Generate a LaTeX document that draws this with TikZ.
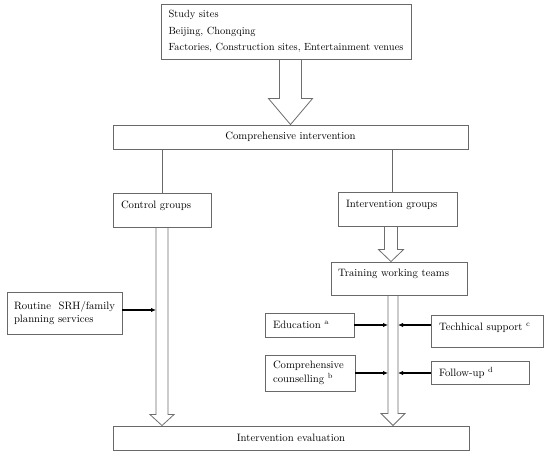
\documentclass[tikz,border=0pt]{standalone}
\usetikzlibrary{calc,arrows.meta}
\definecolor{boxgray}{RGB}{105,105,105}
\definecolor{arrgray}{RGB}{110,110,110}
\tikzset{
  box/.style={draw=boxgray, line width=0.9pt, inner ysep=0pt, inner xsep=8pt,
    font=\fontsize{10.7}{13.5}\selectfont, text=black},
  lbox/.style={box, align=left},
  hollow/.style={draw=arrgray, line width=0.8pt, line join=miter},
  thinline/.style={draw=boxgray, line width=0.9pt},
  conn/.style={draw=black, line width=1.1pt, -{Latex[length=5pt,width=4.5pt]}},
}
\newcommand{\hollowarrow}[5]{%
  \draw[hollow] let \p1=(#1), \p2=(#2) in
    (\x1-#3,\y1) -- (\x1-#3,\y2+#5) -- (\x1-#4,\y2+#5) -- (\x1,\y2)
    -- (\x1+#4,\y2+#5) -- (\x1+#3,\y2+#5) -- (\x1+#3,\y1);
}
\begin{document}
\begin{tikzpicture}[x=1pt,y=-1pt]
\useasboundingbox[fill=white] (0,0) rectangle (550,457);

\node[lbox, minimum width=250pt, minimum height=55pt,
      inner xsep=0pt, font=\fontsize{10.4}{16.5}\selectfont] (sites) at (286,31.5)
  {Study sites\\Beijing, Chongqing\\Factories, Construction sites, Entertainment venues};

\node[box, minimum width=355pt, minimum height=24pt] (comp) at (290.5,137)
  {Comprehensive intervention};

\node[lbox, minimum width=98pt, minimum height=34pt, text width=82pt, text depth=11pt] (control) at (162,210)
  {Control groups};

\node[lbox, minimum width=119pt, minimum height=34pt, text width=103pt, text depth=9.5pt] (intgroups) at (397.5,209)
  {Intervention groups};

\node[lbox, minimum width=136pt, minimum height=33pt, text width=122pt, inner xsep=7pt, text depth=11pt] (training) at (399,278.5)
  {Training working teams};

\node[box, align=justify, minimum width=115pt, minimum height=42pt, text width=101pt, inner xsep=7pt] (routine) at (64.5,313)
  {Routine SRH/family\linebreak planning services};

\node[lbox, minimum width=89pt, minimum height=24pt, text width=73pt] (edu) at (309.5,325)
  {Education \textsuperscript{a}};

\node[lbox, minimum width=90pt, minimum height=36pt, text width=74pt] (couns) at (310,373)
  {Comprehensive\\counselling \textsuperscript{b}};

\node[lbox, minimum width=112pt, minimum height=32pt, text width=96pt, text depth=8.5pt] (tech) at (487,331)
  {Techhical support \textsuperscript{c}};

\node[lbox, minimum width=98pt, minimum height=23pt, text width=82pt] (follow) at (480,372.5)
  {Follow-up \textsuperscript{d}};

\node[box, minimum width=356pt, minimum height=24pt] (eval) at (291,438)
  {Intervention evaluation};

% helper coordinates on the hollow arrows
\coordinate (igout) at ($(intgroups.south)+(-6.5,0)$);
\coordinate (igin) at ($(intgroups.north)+(-5.5,0)$);
\coordinate (trout) at ($(training.south)+(-6,0)$);
\coordinate (cshaftL) at ($(control.south)+(-6,0)$);
\coordinate (tshaftL) at ($(trout)+(-5,0)$);
\coordinate (tshaftR) at ($(trout)+(5,0)$);

% thin lines
\draw[thinline] (control.north |- comp.south) -- (control.north);
\draw[thinline] (igin |- comp.south) -- (igin);

% hollow arrows
\hollowarrow{comp.north |- sites.south}{comp.north}{11pt}{22pt}{26pt}
\hollowarrow{control.south}{control.south |- eval.north}{6pt}{12pt}{11pt}
\hollowarrow{igout}{igout |- training.north}{6.5pt}{12.5pt}{12pt}
\hollowarrow{trout}{trout |- eval.north}{5pt}{12pt}{12pt}

% connectors
\draw[conn] ([yshift=3pt]routine.east) -- ([yshift=3pt]routine.east -| cshaftL);
\draw[conn] (edu.east) -- (edu.east -| tshaftL);
\draw[conn] (tech.west |- edu.east) -- (tshaftR |- edu.east);
\draw[conn] (couns.east) -- (couns.east -| tshaftL);
\draw[conn] (follow.west |- couns.east) -- (tshaftR |- couns.east);
\end{tikzpicture}
\end{document}
